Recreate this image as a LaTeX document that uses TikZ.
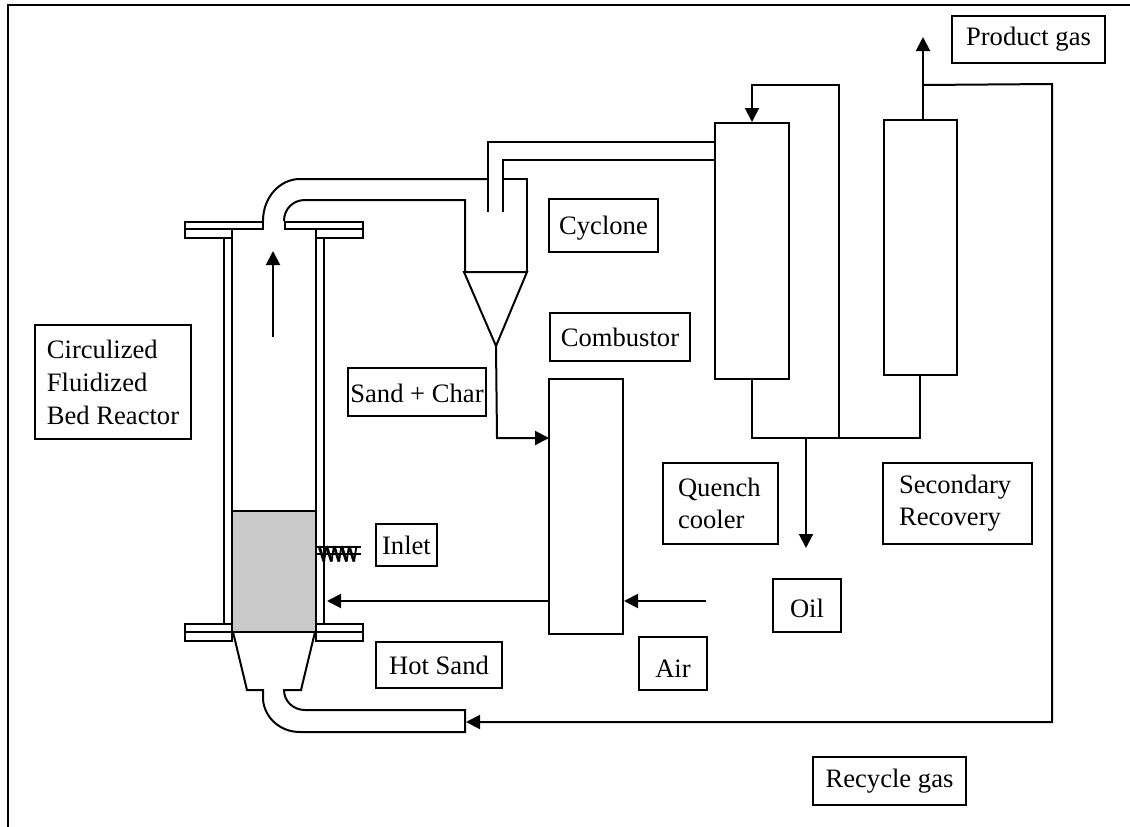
\documentclass[tikz,border=0pt]{standalone}
\usepackage{fontspec}
\setmainfont{Liberation Serif}
\usetikzlibrary{arrows.meta}
\tikzset{
    line/.style={line width=2pt, line join=miter},
    flow/.style={line, -{Triangle[length=14pt,width=14pt]}},
    labelbox/.style={draw, line width=2pt, inner sep=0pt, align=left, font=\fontsize{26.6}{32}\selectfont},
    vessel/.style={draw, line width=2pt, inner sep=0pt}
}
\begin{document}
\begin{tikzpicture}[x=1pt, y=-1pt]
    \useasboundingbox (0,0) rectangle (1130,827);
    \draw[line] (8,827) -- (8,4.5) -- (1130,4.5);

    \draw[line, fill=black!21] (232,511) rectangle (316,632);
    \draw[line] (224,238) -- (224,624);
    \draw[line] (324,238) -- (324,624);
    \draw[line width=2.6pt] (232,229) -- (232,641);
    \draw[line width=2.6pt] (316,229) -- (316,641);
    \draw[line] (185,222) rectangle (263,229);
    \draw[line] (285,222) rectangle (363,229);
    \draw[line] (185,229) rectangle (232,238);
    \draw[line] (316,229) rectangle (363,238);
    \draw[line] (185,624) rectangle (232,632);
    \draw[line] (185,632) rectangle (232,641);
    \draw[line] (316,624) rectangle (363,632);
    \draw[line] (316,632) rectangle (363,641);

    \draw[line] (263,221) .. controls (263,197) and (280,179) .. (300,179) -- (488,179);
    \draw[line] (284,221) .. controls (284,209) and (293,200) .. (305,200) -- (465,200) -- (465,272);
    \draw[line] (503,179) -- (527,179) -- (527,272);
    \draw[line] (488,212) -- (488,142) -- (715,142);
    \draw[line] (503,212) -- (503,160) -- (715,160);
    \coordinate (cyclonetip) at (496,346);
    \draw[line] (464,272) -- (527,272) -- (cyclonetip) -- cycle;

    \draw[line] (233,632) -- (247,690) -- (263,690) -- (263,700)
        .. controls (265,718) and (280,732) .. (300,732) -- (465,732) -- (465,710) -- (305,710)
        .. controls (293,710) and (284,701) .. (284,690) -- (301,690) -- (315,632);

    \foreach \x in {319,326.5,...,356} {
        \draw[line width=2.8pt] (\x,546) -- (\x+5,561.5);
        \draw[line width=1.8pt] (\x+5,561.5) -- (\x+7.5,546);
    }
    \draw[line width=2.4pt] (316,547) -- (361,547);
    \draw[line width=2.4pt] (316,554) -- (361,554);

    \node (combustor) at (586,506.5) [vessel, minimum width=74pt, minimum height=255pt] {};
    \node (quench) at (752,251) [vessel, minimum width=74pt, minimum height=256pt] {};
    \node (secondary) at (920.5,247.5) [vessel, minimum width=73pt, minimum height=255pt] {};

    \node (cfbr) at (113,382) [labelbox, minimum width=156pt, minimum height=114pt] {Circulized\\[1pt]Fluidized\\[1pt]Bed Reactor};
    \node (sandchar) at (417,392) [labelbox, minimum width=138pt, minimum height=48pt, text height=22pt] {Sand + Char};
    \node (cyclone) at (603.5,225.5) [labelbox, minimum width=109pt, minimum height=53pt, text height=23pt] {Cyclone};
    \node (combustorlabel) at (620,337) [labelbox, minimum width=140pt, minimum height=48pt] {Combustor};
    \node (productgas) at (1028.5,39.5) [labelbox, minimum width=153pt, minimum height=47pt] {Product gas};
    \node (quenchlabel) at (720.5,503.5) [labelbox, minimum width=115pt, minimum height=81pt, text width=85pt] {Quench\\cooler};
    \node (secondarylabel) at (957.5,503.5) [labelbox, minimum width=149pt, minimum height=81pt, text width=117pt] {Secondary\\Recovery};
    \node (inlet) at (406.5,545) [labelbox, minimum width=61pt, minimum height=42pt] {Inlet};
    \node (hotsand) at (439,665) [labelbox, minimum width=126pt, minimum height=46pt] {Hot Sand};
    \node (air) at (673,663.5) [labelbox, minimum width=68pt, minimum height=53pt, text height=27pt] {Air};
    \node (oil) at (807,605.5) [labelbox, minimum width=68pt, minimum height=53pt, text height=25pt] {Oil};
    \node (recyclegas) at (889.5,781) [labelbox, minimum width=153pt, minimum height=48pt] {Recycle gas};

    \coordinate (riserbase) at (273,337);
    \coordinate (risertop) at (273,251);
    \draw[flow] (riserbase) -- (risertop);
    \coordinate (charin) at (549,438);
    \draw[flow] (cyclonetip) -- (497,438) -- (charin);
    \coordinate (sandout) at (549,601);
    \coordinate (sandin) at (327,601);
    \draw[flow] (sandout) -- (sandin);
    \coordinate (airstart) at (706,601);
    \coordinate (airin) at (624,601);
    \draw[flow] (airstart) -- (airin);

    \coordinate (quenchbase) at (752,379);
    \coordinate (secondarybase) at (920,375);
    \coordinate (oilend) at (806,548);
    \draw[line] (quenchbase) -- (752,438) -- (920,438) -- (secondarybase);
    \draw[flow] (806,438) -- (oilend);
    \draw[flow] (839,438) -- (839,85) -- (752,85) -- (quench.north);
    \draw[flow] (secondary.north -| 923,0) -- (923,37);
    \coordinate (recyclein) at (466,722);
    \draw[flow] (923,85) -- (1052,84) -- (1052,722) -- (recyclein);
\end{tikzpicture}
\end{document}
